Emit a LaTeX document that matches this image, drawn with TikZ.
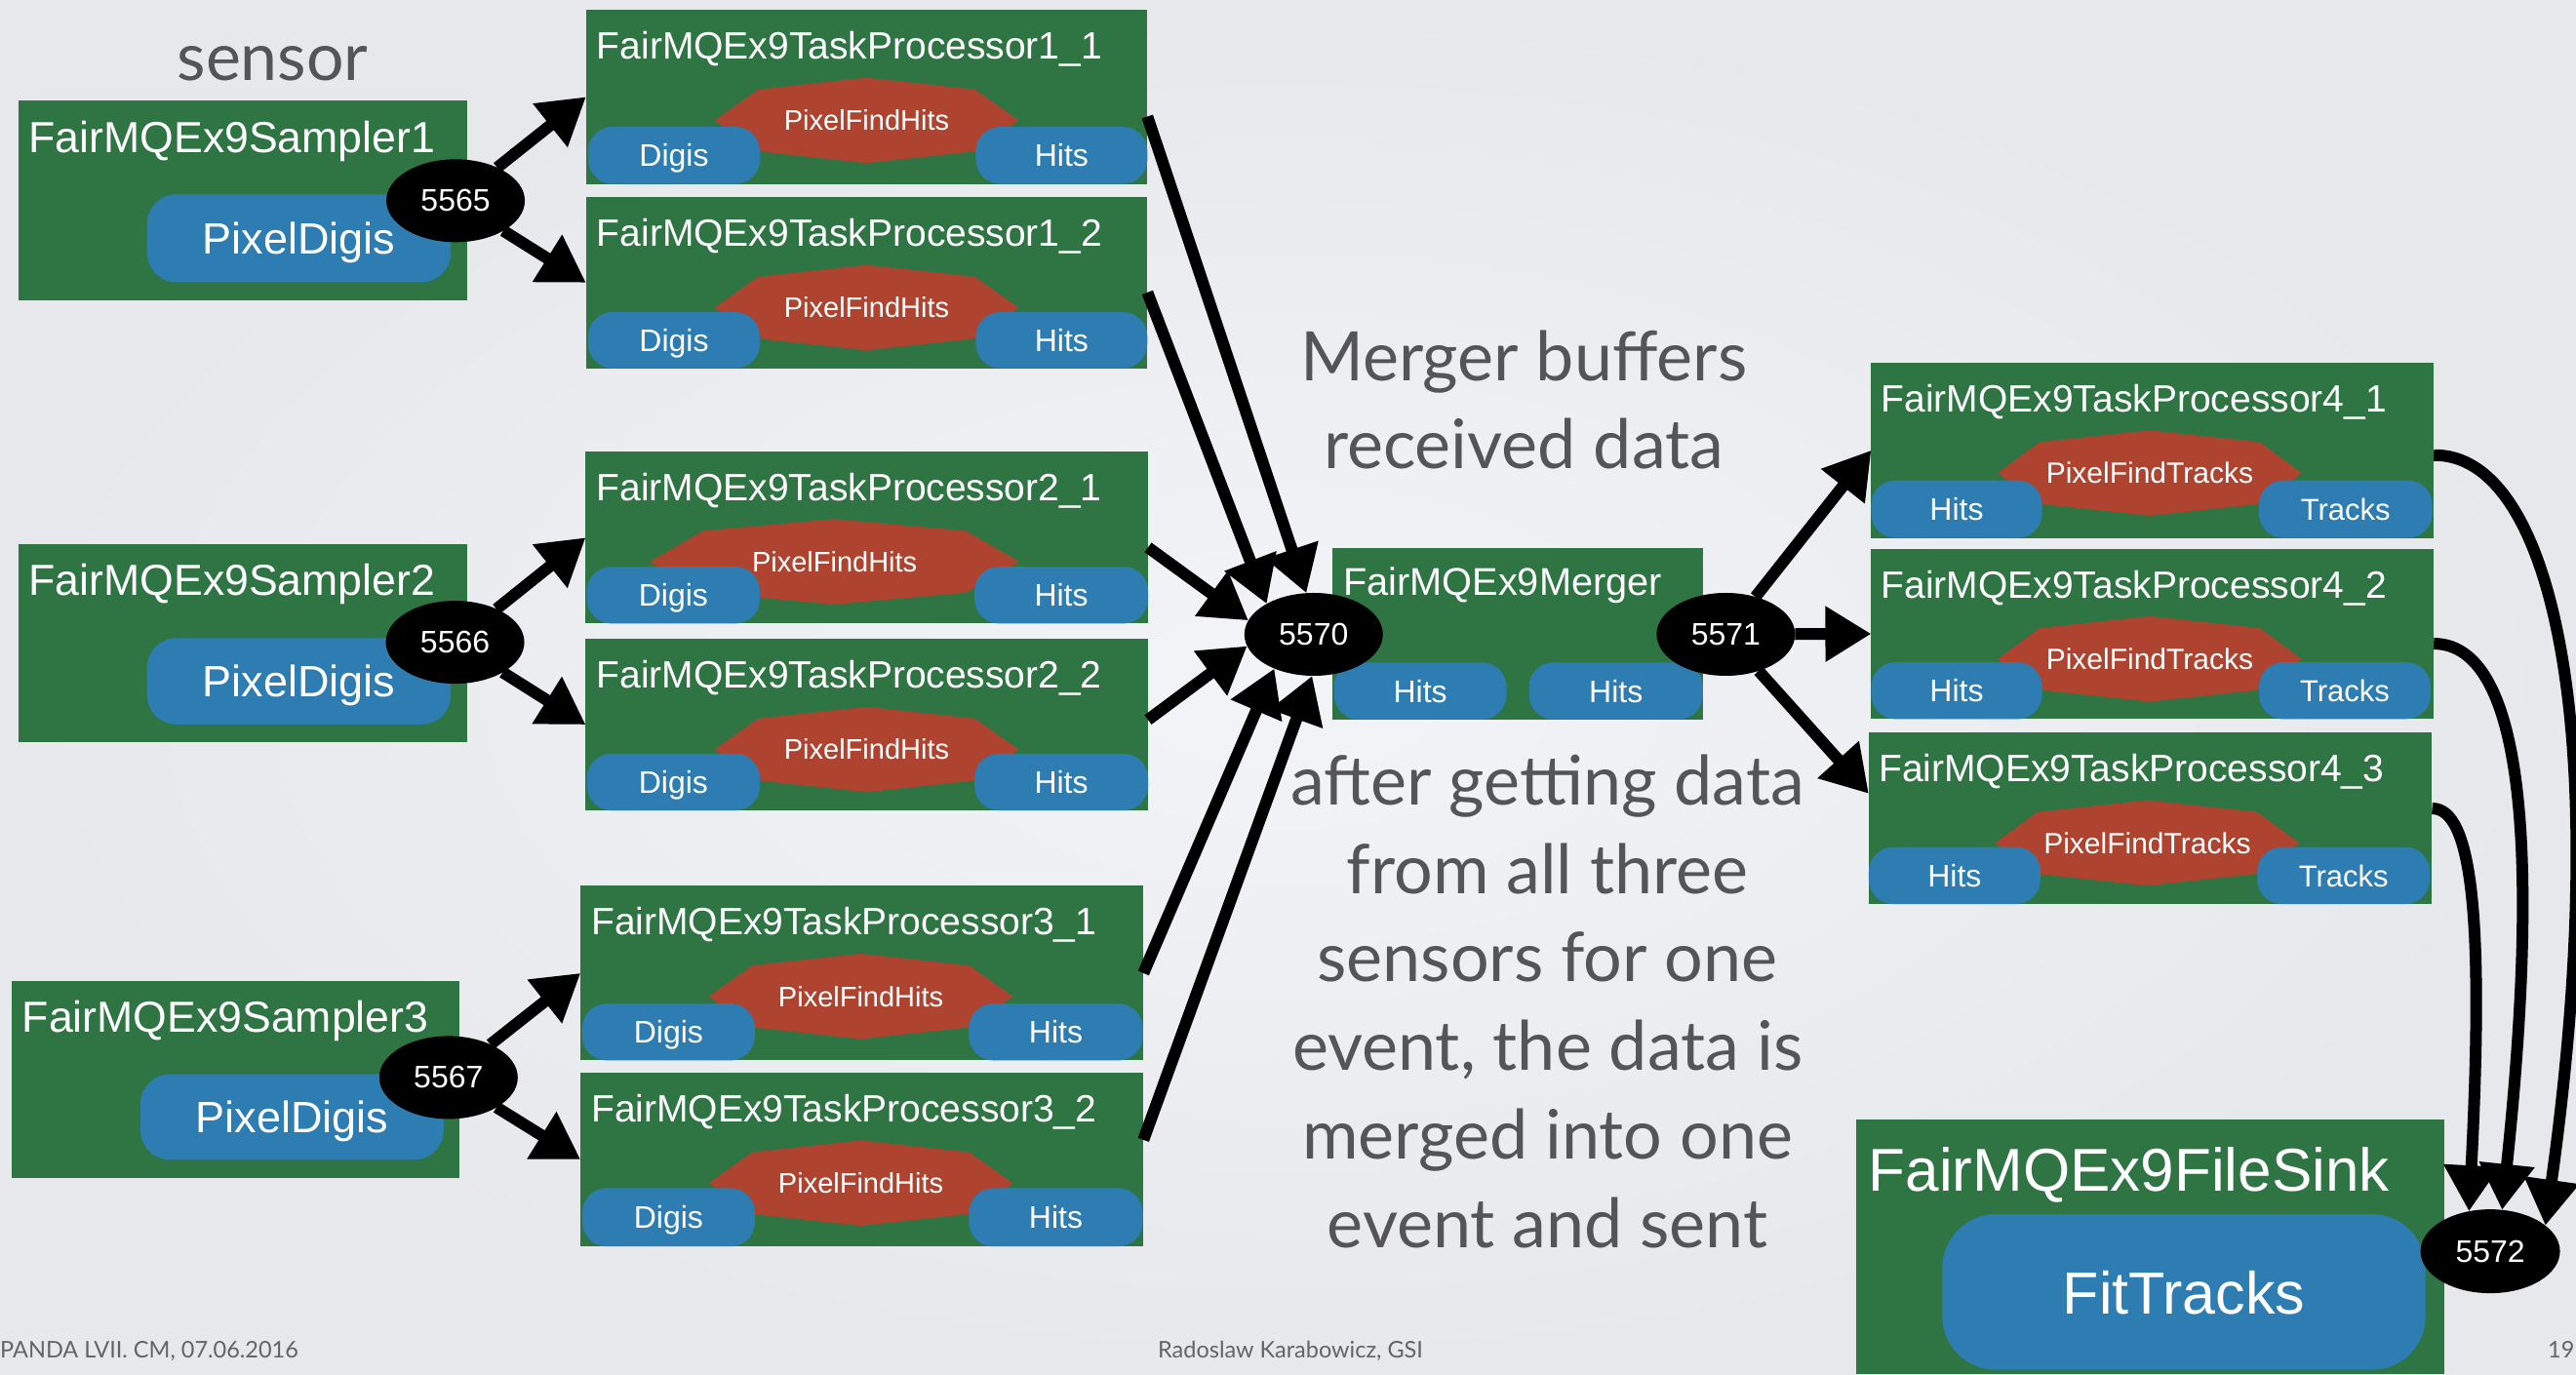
\documentclass[tikz,border=0pt]{standalone}
\usepackage{fontspec}
\setmainfont{Liberation Sans}
\newfontfamily\gillf{Lato}
\usetikzlibrary{arrows.meta,shapes.geometric}
\definecolor{gboxc}{RGB}{46,117,67}
\definecolor{bboxc}{RGB}{45,125,178}
\definecolor{rboxc}{RGB}{174,67,48}
\definecolor{gtextc}{RGB}{85,85,87}
\definecolor{ftextc}{RGB}{100,100,102}
\definecolor{bgin}{RGB}{243,244,247}
\definecolor{bgout}{RGB}{230,232,236}
\newcommand\fsz[1]{\fontsize{#1}{#1}\selectfont}
\newcommand\gbx[5]{\node[greenst, minimum width={(#4-#2)*1.6843pt}, minimum height={(#5-#3)*1.6843pt}] (#1) at ({(#2+#4)/2},{(#3+#5)/2}) {};}
\newcommand\bbx[7]{\node[bluest, rounded corners=#6, minimum width={(#4-#2)*1.6843pt}, minimum height={(#5-#3)*1.6843pt}] (#1) at ({(#2+#4)/2},{(#3+#5)/2}) {#7};}
\newcommand\octg[6]{%
 \path[fill=rboxc] (#2-#4,#3) -- (#2-#5,#3-18.8) -- (#2,#3-26) -- (#2+#5,#3-18.8) -- (#2+#4,#3) -- (#2+#5,#3+18.8) -- (#2,#3+26) -- (#2-#5,#3+18.8) -- cycle;
 \node[redtxt] (#1) at (#2,#3) {#6};}
\begin{document}
\begin{tikzpicture}[x=1.6843pt,y=-1.6843pt,
  greenst/.style={fill=gboxc, inner sep=0pt, outer sep=0pt},
  bluest/.style={fill=bboxc, inner sep=0pt, outer sep=0pt, text=white, text depth=0pt},
  redtxt/.style={inner sep=0pt, text=white, font=\fsz{29}},
  ttl/.style={anchor=base west, inner sep=0pt, text=white},
  port/.style={ellipse, fill=black, text=white, inner sep=0pt, outer sep=0pt,
     minimum width=142pt, minimum height=85pt, font=\fsz{32}},
  gray/.style={anchor=base, inner sep=0pt, text=gtextc, font=\gillf\fsz{70}},
  foot/.style={anchor=base, inner sep=0pt, text=ftextc, font=\gillf\fsz{23.5}},
  arr/.style={line width=12pt, -{Triangle[length=47pt,width=54pt]}}]
\useasboundingbox (0,0) rectangle (1568,836.6);
\shade[inner color=bgin, outer color=bgout] (0,0) rectangle (1568,836.6);

% ---- samplers
\gbx{s1}{11.3}{61.3}{284.4}{183}
\bbx{s1b}{89.5}{118.3}{274.4}{171.8}{30pt}{\fsz{45}PixelDigis}
\node[ttl, font=\fsz{44.6}] (s1t) at (17.5,93) {FairMQEx9Sampler1};
\gbx{s2}{11.3}{331}{284.4}{452}
\bbx{s2b}{89.5}{388.5}{274.4}{441}{30pt}{\fsz{45}PixelDigis}
\node[ttl, font=\fsz{44.6}] (s2t) at (17.5,362.7) {FairMQEx9Sampler2};
\gbx{s3}{7}{597}{279.5}{717}
\bbx{s3b}{85.5}{654}{270}{706}{30pt}{\fsz{45}PixelDigis}
\node[ttl, font=\fsz{44.6}] (s3t) at (13.5,628.7) {FairMQEx9Sampler3};

% ---- processors 1
\gbx{tp11}{356.7}{6}{698.4}{112}
\octg{r11}{527.5}{73.3}{92.5}{66}{PixelFindHits}
\bbx{tp11a}{358}{77.2}{462.5}{112}{25pt}{\fsz{32}Digis}
\bbx{tp11b}{594}{77.2}{698.4}{112}{25pt}{\fsz{32}Hits}
\node[ttl, font=\fsz{39}] (t11) at (363.2,36) {FairMQEx9TaskProcessor1\_1};
\gbx{tp12}{356.7}{120}{698.4}{224.2}
\octg{r12}{527.5}{187.3}{92.5}{66}{PixelFindHits}
\bbx{tp12a}{358}{190}{462.5}{224.2}{25pt}{\fsz{32}Digis}
\bbx{tp12b}{594}{190}{698.4}{224.2}{25pt}{\fsz{32}Hits}
\node[ttl, font=\fsz{39}] (t12) at (363.2,150) {FairMQEx9TaskProcessor1\_2};

% ---- processors 2
\gbx{tp21}{356.5}{275}{698.8}{379.6}
\octg{r21}{508}{342}{112.5}{80}{PixelFindHits}
\bbx{tp21a}{357.3}{345}{462.5}{379.6}{25pt}{\fsz{32}Digis}
\bbx{tp21b}{593.2}{345}{698.8}{379.6}{25pt}{\fsz{32}Hits}
\node[ttl, font=\fsz{39}] (t21) at (363,305) {FairMQEx9TaskProcessor2\_1};
\gbx{tp22}{356.5}{389}{698.8}{493.4}
\octg{r22}{527.5}{456.3}{92.5}{66}{PixelFindHits}
\bbx{tp22a}{357.3}{458.8}{462.5}{493.4}{25pt}{\fsz{32}Digis}
\bbx{tp22b}{593.2}{458.8}{698.8}{493.4}{25pt}{\fsz{32}Hits}
\node[ttl, font=\fsz{39}] (t22) at (363,419) {FairMQEx9TaskProcessor2\_2};

% ---- processors 3
\gbx{tp31}{353.4}{539.3}{696}{645.6}
\octg{r31}{524}{606.6}{92.5}{66}{PixelFindHits}
\bbx{tp31a}{354.4}{611}{459.5}{645.6}{25pt}{\fsz{32}Digis}
\bbx{tp31b}{589.8}{611}{695.6}{645.6}{25pt}{\fsz{32}Hits}
\node[ttl, font=\fsz{39}] (t31) at (359.8,569) {FairMQEx9TaskProcessor3\_1};
\gbx{tp32}{353.4}{653}{696}{758.9}
\octg{r32}{524}{720.3}{92.5}{66}{PixelFindHits}
\bbx{tp32a}{354.4}{723.4}{459.5}{758.9}{25pt}{\fsz{32}Digis}
\bbx{tp32b}{589.8}{723.4}{695.6}{758.9}{25pt}{\fsz{32}Hits}
\node[ttl, font=\fsz{39}] (t32) at (359.8,683) {FairMQEx9TaskProcessor3\_2};

% ---- merger
\gbx{mg}{811.3}{333.5}{1036.5}{438}
\bbx{mga}{812}{403.3}{917}{438}{25pt}{\fsz{32}Hits}
\bbx{mgb}{930.7}{403.3}{1036.5}{438}{25pt}{\fsz{32}Hits}
\node[ttl, font=\fsz{39.7}] (mgt) at (817.6,362.2) {FairMQEx9Merger};

% ---- processors 4
\gbx{tp41}{1139}{220.8}{1481.4}{327.5}
\octg{r41}{1308.5}{288}{92.5}{67}{\fsz{30}PixelFindTracks}
\bbx{tp41a}{1139}{292.5}{1243}{327.5}{25pt}{\fsz{32}Hits}
\bbx{tp41b}{1375}{292.5}{1480.5}{327.5}{25pt}{\fsz{31}Tracks}
\node[ttl, font=\fsz{39}] (t41) at (1145,251) {FairMQEx9TaskProcessor4\_1};
\gbx{tp42}{1139}{334}{1481.4}{437.8}
\octg{r42}{1308.5}{401.2}{92.5}{67}{\fsz{30}PixelFindTracks}
\bbx{tp42a}{1139}{403.2}{1243}{437.8}{25pt}{\fsz{32}Hits}
\bbx{tp42b}{1375}{403.2}{1479.5}{437.8}{25pt}{\fsz{31}Tracks}
\node[ttl, font=\fsz{39}] (t42) at (1145,364) {FairMQEx9TaskProcessor4\_2};
\gbx{tp43}{1137.5}{446}{1480.4}{550.4}
\octg{r43}{1307}{513.2}{92.5}{67}{\fsz{30}PixelFindTracks}
\bbx{tp43a}{1137.5}{515.7}{1242}{550.4}{25pt}{\fsz{32}Hits}
\bbx{tp43b}{1374}{515.7}{1479}{550.4}{25pt}{\fsz{31}Tracks}
\node[ttl, font=\fsz{39}] (t43) at (1143.5,476) {FairMQEx9TaskProcessor4\_3};

% ---- file sink
\gbx{fs}{1129.8}{681.4}{1487.9}{836.6}
\bbx{fsb}{1182.3}{739.2}{1476.4}{834}{55pt}{\fsz{61}FitTracks}
\node[ttl, font=\fsz{62}] (fst) at (1137.3,725.3) {FairMQEx9FileSink};

% ---- ports
\node[port] (p5565) at (277.3,122.2) {5565};
\node[port] (p5566) at (277,391) {5566};
\node[port] (p5567) at (273,656) {5567};
\node[port] (p5570) at (799.6,386.2) {5570};
\node[port] (p5571) at (1050.5,386.2) {5571};
\node[port, minimum width=143pt, minimum height=86pt] (p5572) at (1515.8,761.8) {5572};

% ---- arrows
\draw[arr] (p5565) -- (tp11.west);
\draw[arr] (p5565) -- (tp12.west);
\draw[arr] (p5566) -- (tp21.west);
\draw[arr] (p5566) -- (tp22.west);
\draw[arr] (p5567) -- (tp31.west);
\draw[arr] (p5567) -- (tp32.west);

\draw[arr] (tp11.-4) -- (p5570.100);
\draw[arr] (tp12.-2) -- (p5570.147);
\draw[arr] (tp21.-2) -- (p5570.168);
\draw[arr] (tp22.1) -- (p5570.190);
\draw[arr] (tp31.east) -- (p5570.221);
\draw[arr] (tp32.4) -- (p5570.268);

\draw[arr] (p5571) -- (tp41.west);
\draw[arr] (p5571) -- (tp42.west);
\draw[arr] (p5571) -- (tp43.175);

\draw[arr] (tp41.-1) .. controls (1552,276) and (1592,440) .. (p5572.25);
\draw[arr] (tp42.-2) .. controls (1527,392) and (1550,480) .. (p5572.74);
\draw[arr] (tp43.2) .. controls (1505,492) and (1512,560) .. (p5572.118);

% ---- texts
\node[gray, font=\gillf\fsz{68}] (sensor) at (166,49) {sensor};
\node[gray] (mb1) at (927.5,231.6) {Merger buffers};
\node[gray] (mb2) at (927.5,285) {received data};
\node[gray] (ag1) at (942,490.4) {after getting data};
\node[gray] (ag2) at (942,544) {from all three};
\node[gray] (ag3) at (942,597.7) {sensors for one};
\node[gray] (ag4) at (942,651.7) {event, the data is};
\node[gray] (ag5) at (942,705.7) {merged into one};
\node[gray] (ag6) at (942,759.7) {event and sent};

\node[foot, anchor=base west] (f1) at (0,827) {PANDA LVII. CM, 07.06.2016};
\node[foot] (f2) at (785.5,827) {Radoslaw Karabowicz, GSI};
\node[foot] (f3) at (1559,827) {19};
\end{tikzpicture}
\end{document}
